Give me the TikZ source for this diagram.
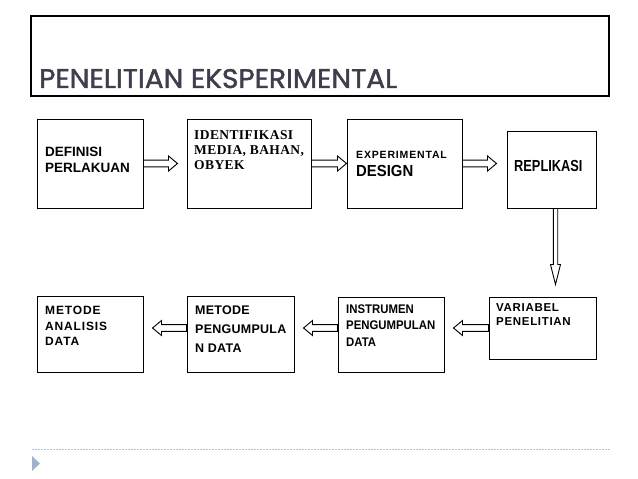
\documentclass[tikz,border=0pt]{standalone}
\usepackage{fontspec}
\usepackage{graphicx}
\usetikzlibrary{calc}
\newfontfamily\arialf{Liberation Sans}
\newfontfamily\timesf{Liberation Serif}
\newfontfamily\titlef[FakeBold=1.6]{Poppins}
\definecolor{titlecol}{HTML}{3E3E4C}
\definecolor{footcol}{HTML}{9DB4CC}
\definecolor{footline}{HTML}{B4C2D2}
\newcommand\hblock[2]{%
  \draw[blockarrow] let \p1=#1, \p2=#2, \p3=($#2!9pt!#1$) in
    (\x1,\y1+3.4pt) -- (\x3,\y1+3.4pt) -- (\x3,\y1+7.5pt) -- (\x2,\y1)
    -- (\x3,\y1-7.5pt) -- (\x3,\y1-3.4pt) -- (\x1,\y1-3.4pt) -- cycle;}
\newcommand\vblock[2]{%
  \draw[blockarrow] let \p1=#1, \p2=#2, \p3=($#2!20pt!#1$) in
    (\x1-2.2pt,\y1) -- (\x1-2.2pt,\y3) -- (\x1-5pt,\y3) -- (\x2,\y2)
    -- (\x1+5pt,\y3) -- (\x1+2.2pt,\y3) -- (\x1+2.2pt,\y1) -- cycle;}
\begin{document}
\begin{tikzpicture}[x=1pt,y=-1pt,
  box/.style={draw=black, line width=1pt, inner sep=0pt, fill=white},
  blockarrow/.style={draw=black, line width=0.9pt, fill=white, line join=miter},
  lbl/.style={anchor=north west, inner sep=0pt, align=left, text=black},
]
\useasboundingbox (0,0) rectangle (638,479);
\fill[white] (0,0) rectangle (638,479);

% title
\node[draw=black, line width=1.2pt, minimum width=578pt, minimum height=80pt, inner sep=0pt] (title) at (320,56) {};
\node[anchor=base west, inner sep=0pt, text=titlecol] (ttext) at (39,88)
  {\resizebox{358pt}{19pt}{\titlef PENELITIAN EKSPERIMENTAL}};

% boxes
\node[box, minimum width=106pt, minimum height=89pt] (A) at (90,163.5) {};
\node[box, minimum width=124pt, minimum height=89pt] (B) at (249,163.5) {};
\node[box, minimum width=115pt, minimum height=89pt] (C) at (404.5,163.5) {};
\node[box, minimum width=89pt, minimum height=77pt] (D) at (551.5,169.5) {};
\node[box, minimum width=107pt, minimum height=62pt] (E) at (542.5,328) {};
\node[box, minimum width=106pt, minimum height=75pt] (F) at (391,334.5) {};
\node[box, minimum width=107pt, minimum height=76pt] (G) at (240.5,334) {};
\node[box, minimum width=106pt, minimum height=76pt] (H) at (90,334) {};

% texts
\node[lbl, font={\arialf\bfseries\fontsize{13.5}{16}\selectfont}] (tA) at (45,147.3) {DEFINISI\\PERLAKUAN};
\node[lbl, font={\timesf\bfseries\fontsize{13.5}{15}\selectfont\addfontfeatures{LetterSpace=3}}] (tB) at (194,130.7) {IDENTIFIKASI\\MEDIA, BAHAN,\\OBYEK};
\node[lbl, font={\arialf\bfseries\fontsize{10.5}{10.5}\selectfont\addfontfeatures{LetterSpace=8}}] (tC1) at (356,151.2) {EXPERIMENTAL};
\node[lbl, font={\arialf\bfseries\fontsize{16}{16}\selectfont\addfontfeatures{FakeStretch=0.93}}] (tC2) at (356,165) {DESIGN};
\node[lbl, font={\arialf\bfseries\fontsize{16}{16}\selectfont\addfontfeatures{FakeStretch=0.8}}] (tD) at (514,160) {REPLIKASI};
\node[lbl, font={\arialf\bfseries\fontsize{11.5}{14.3}\selectfont\addfontfeatures{LetterSpace=6}}] (tE) at (496,303.3) {VARIABEL\\PENELITIAN};
\node[lbl, font={\arialf\bfseries\fontsize{12.5}{16.7}\selectfont\addfontfeatures{FakeStretch=0.91}}] (tF) at (346,304.3) {INSTRUMEN\\PENGUMPULAN\\DATA};
\node[lbl, font={\arialf\bfseries\fontsize{12.5}{19}\selectfont\addfontfeatures{LetterSpace=2}}] (tG) at (195,306) {METODE\\PENGUMPULA\\N DATA};
\node[lbl, font={\arialf\bfseries\fontsize{12}{15.7}\selectfont\addfontfeatures{LetterSpace=7}}] (tH) at (45,306) {METODE\\ANALISIS\\DATA};

% arrow end points
\coordinate (tAB) at ($(B.west)+(-9,0)$);
\coordinate (tCD) at ($(D.west |- C.east)+(-10,0)$);
\coordinate (sDE) at ($(D.south)+(4,0)$);
\coordinate (tDE) at ($(sDE |- E.north)+(0,-12)$);
\coordinate (tEF) at ($(F.east |- E.west)+(9,0)$);
\coordinate (sFG) at (F.west |- E.west);
\coordinate (tFG) at ($(G.east |- E.west)+(9,0)$);
\coordinate (sGH) at (G.west |- E.west);
\coordinate (tGH) at ($(H.east |- E.west)+(9,0)$);

% arrows
\hblock{(A.east)}{(tAB)}
\hblock{(B.east)}{(C.west)}
\hblock{(C.east)}{(tCD)}
\vblock{(sDE)}{(tDE)}
\hblock{(E.west)}{(tEF)}
\hblock{(sFG)}{(tFG)}
\hblock{(sGH)}{(tGH)}

% footer
\coordinate (fl) at (32,449);
\coordinate (fr) at (610,449);
\draw[footline, line width=0.8pt, dash pattern=on 2pt off 1pt] (fl) -- (fr);
\fill[footcol] (32,456) -- (40,463.5) -- (32,471) -- cycle;
\end{tikzpicture}
\end{document}
